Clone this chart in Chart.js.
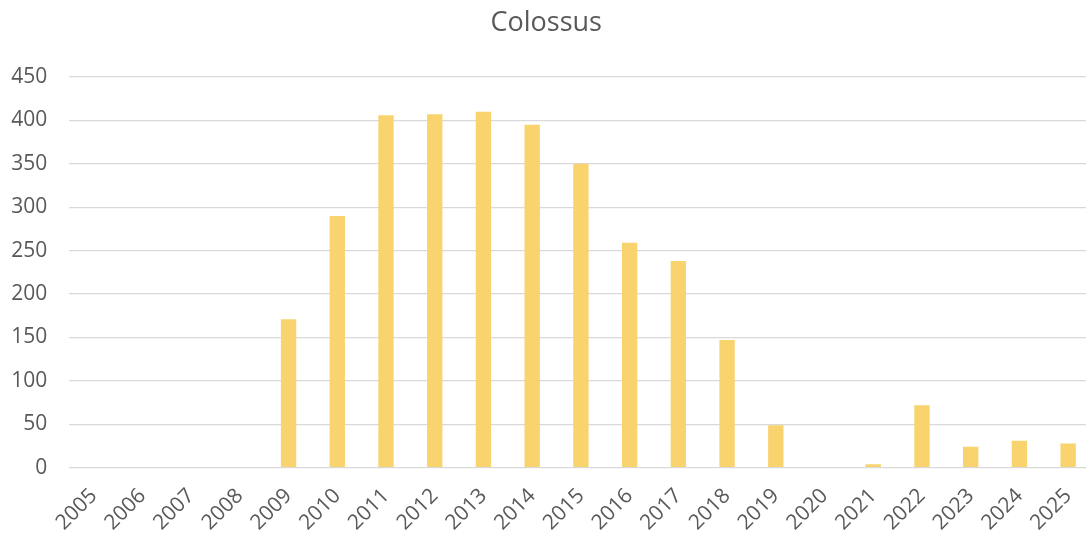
<!DOCTYPE html>
<html>
<head>
<meta charset="utf-8">
<title>Colossus</title>
<script src="https://cdn.jsdelivr.net/npm/chart.js@4/dist/chart.umd.min.js"></script>
<style>
  html, body { margin: 0; padding: 0; background: #ffffff; overflow: hidden; }
  #wrap { width: 1114px; height: 535px; }
</style>
</head>
<body>
<div id="wrap"><canvas id="chart" width="1114" height="535"></canvas></div>
<script>
// Yearly counts
const years = ['2005','2006','2007','2008','2009','2010','2011','2012','2013','2014','2015',
               '2016','2017','2018','2019','2020','2021','2022','2023','2024','2025'];
const counts = [0, 0, 0, 0, 171, 290, 406, 407, 410, 395, 350,
                259, 238, 147, 49, 0, 4, 72, 24, 31, 28];
const yTicks = [0, 50, 100, 150, 200, 250, 300, 350, 400, 450];

const textColor = '#595959';
const gridColor = '#d9d9d9';
const fontFamily = "'Open Sans', 'Liberation Sans', sans-serif";

new Chart(document.getElementById('chart'), {
  type: 'bar',
  data: {
    labels: years,
    datasets: [{
      label: 'Colossus',
      data: counts,
      backgroundColor: '#f9d36e',
      borderWidth: 0,
      barPercentage: 0.315,
      categoryPercentage: 1.0
    }]
  },
  options: {
    responsive: false,
    animation: false,
    layout: { padding: { left: 0, right: 21.5, top: 0, bottom: 0 } },
    plugins: {
      legend: { display: false },
      tooltip: { enabled: false },
      title: {
        display: true,
        text: 'Colossus',
        color: textColor,
        font: { family: fontFamily, size: 27, weight: 'normal' },
        padding: { top: 7, bottom: 37.6 }
      }
    },
    scales: {
      x: {
        grid: { display: false, drawTicks: false },
        border: { display: false },
        ticks: {
          autoSkip: false,
          maxRotation: 45,
          minRotation: 45,
          padding: 16,
          color: textColor,
          font: { family: fontFamily, size: 21 }
        },
        afterFit: (scale) => { scale.height = 67.3; }
      },
      y: {
        min: yTicks[0],
        max: yTicks[yTicks.length - 1],
        afterBuildTicks: (scale) => { scale.ticks = yTicks.map(v => ({ value: v })); },
        grid: { color: gridColor, lineWidth: 1.3, drawTicks: false },
        border: { display: false },
        ticks: {
          padding: 22,
          color: textColor,
          font: { family: fontFamily, size: 21 }
        },
        afterFit: (scale) => { scale.width = 69.3; }
      }
    }
  }
});
</script>
</body>
</html>
